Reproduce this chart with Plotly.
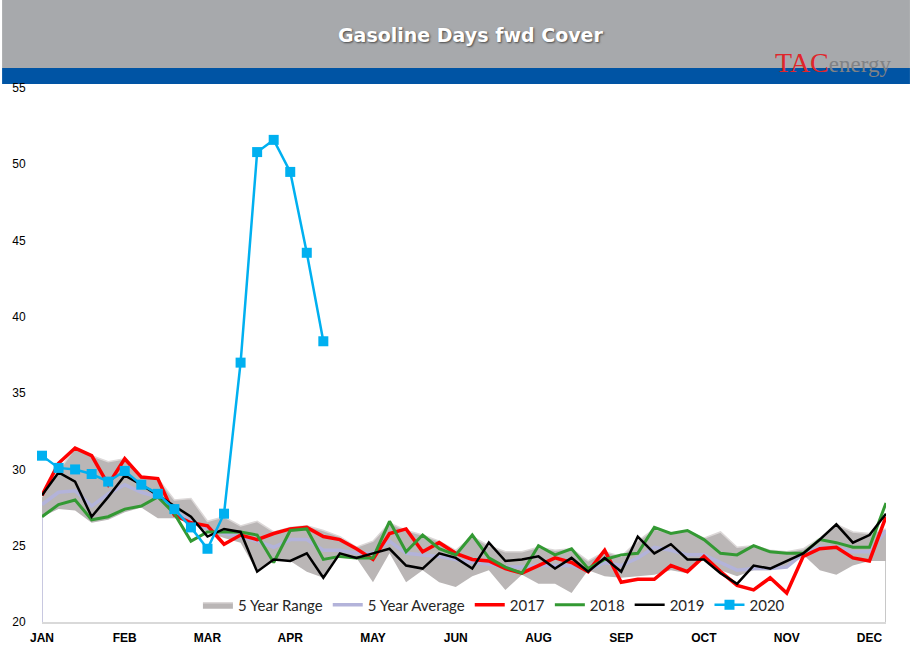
import plotly.graph_objects as go

weeks = list(range(52))
tick_weeks = [0, 5, 10, 15, 20, 25, 30, 35, 40, 45, 50]
tick_labels = ["JAN", "FEB", "MAR", "APR", "MAY", "JUN", "AUG", "SEP", "OCT", "NOV", "DEC"]

range_max = [28.2, 29.9, 31.4, 30.9, 30.5, 30.7, 29.5, 29.4, 28.0, 28.1,
             26.6, 26.9, 26.3, 26.6, 25.9, 26.2, 26.3, 26.0, 25.6, 24.9,
             25.3, 26.5, 26.0, 25.7, 25.3, 24.7, 25.6, 25.0, 24.6, 24.6,
             24.9, 24.7, 24.8, 24.0, 24.6, 24.3, 25.3, 26.1, 25.8, 26.0,
             25.5, 25.9, 24.9, 25.0, 24.7, 24.6, 24.8, 25.5, 26.4, 25.9,
             25.8, 26.1]
range_min = [26.9, 27.4, 27.3, 26.5, 26.7, 27.2, 27.5, 26.8, 26.8, 26.5,
             25.9, 25.5, 25.2, 23.3, 24.0, 24.0, 23.3, 22.9, 24.4, 24.2,
             22.6, 24.5, 22.6, 23.4, 22.6, 22.3, 23.0, 23.4, 22.1, 23.1,
             22.5, 22.5, 21.9, 23.4, 23.0, 22.9, 23.0, 23.1, 23.4, 23.2,
             24.2, 23.4, 23.0, 23.4, 23.4, 23.6, 24.4, 23.4, 23.1, 23.7,
             24.0, 24.0]
avg5 = [27.7, 28.5, 28.6, 27.6, 28.4, 29.0, 28.5, 28.2, 27.3, 26.6,
        26.1, 25.8, 25.6, 25.3, 24.9, 25.4, 25.4, 24.7, 24.7, 24.5,
        24.5, 25.3, 24.5, 24.4, 24.3, 24.1, 23.9, 23.8, 23.6, 23.6,
        23.7, 23.7, 23.7, 23.4, 23.9, 23.7, 24.2, 24.9, 24.7, 24.4,
        24.4, 23.9, 23.4, 23.5, 23.5, 23.6, 24.5, 24.9, 24.9, 24.6,
        24.6, 26.0]
y2017 = [28.3, 30.4, 31.4, 30.9, 29.0, 30.7, 29.5, 29.4, 27.0, 26.5,
         26.3, 25.1, 25.7, 25.4, 25.8, 26.1, 26.2, 25.6, 25.4, 24.8,
         24.1, 25.8, 26.1, 24.6, 25.2, 24.5, 24.1, 24.0, 23.5, 23.2,
         23.7, 24.2, 23.9, 23.3, 24.7, 22.6, 22.8, 22.8, 23.7, 23.3,
         24.3, 23.3, 22.4, 22.1, 22.9, 21.9, 24.3, 24.8, 24.9, 24.2,
         24.0, 26.9]
y2018 = [26.9, 27.7, 28.0, 26.7, 26.9, 27.4, 27.6, 28.2, 27.1, 25.3,
         25.9, 25.9, 25.9, 25.7, 23.9, 26.0, 26.1, 24.1, 24.3, 24.2,
         24.2, 26.6, 24.6, 25.7, 24.8, 24.4, 25.7, 24.2, 23.6, 23.2,
         25.0, 24.4, 24.8, 23.5, 24.1, 24.4, 24.5, 26.2, 25.8, 26.0,
         25.4, 24.5, 24.4, 25.0, 24.6, 24.5, 24.5, 25.4, 25.2, 24.9,
         24.9, 27.8]
y2019 = [28.3, 29.8, 29.2, 26.9, 28.2, 29.6, 29.0, 28.3, 27.6, 26.9,
         25.6, 26.1, 25.9, 23.3, 24.1, 24.0, 24.5, 22.9, 24.5, 24.2,
         24.5, 24.8, 23.7, 23.5, 24.5, 24.2, 23.5, 25.2, 24.0, 24.1,
         24.3, 23.5, 24.2, 23.3, 24.2, 23.3, 25.6, 24.5, 25.1, 24.1,
         24.1, 23.2, 22.5, 23.7, 23.5, 24.0, 24.5, 25.4, 26.4, 25.2,
         25.7, 27.1]
y2020 = [30.9, 30.1, 30.0, 29.7, 29.2, 29.9, 29.0, 28.4, 27.4, 26.2,
         24.8, 27.1, 37.0, 50.8, 51.6, 49.5, 44.2, 38.4]

W, H = 910, 659
ML, MR, MT, MB = 40, 24, 88, 37
PW, PH = W - ML - MR, H - MT - MB


def px_x(p):
    return (p - ML) / PW


def px_y(p):
    return (H - MB - p) / PH


fig = go.Figure()

# 5 year range: base (min) then filled max
fig.add_trace(go.Scatter(x=weeks, y=range_min, mode="lines",
                         line=dict(color="rgba(0,0,0,0)", width=0),
                         showlegend=False, hoverinfo="skip"))
fig.add_trace(go.Scatter(x=weeks, y=range_max, mode="lines", name="5 Year Range",
                         fill="tonexty", fillcolor="#BAB6B6",
                         line=dict(color="#DCD8D8", width=1.5)))
# edges of the range area down to the axis
fig.add_trace(go.Scatter(x=[weeks[0], weeks[0]], y=[20, range_min[0]], mode="lines",
                         line=dict(color="#C8C8E0", width=2),
                         showlegend=False, hoverinfo="skip"))
fig.add_trace(go.Scatter(x=[weeks[-1], weeks[-1]], y=[20, range_min[-1]], mode="lines",
                         line=dict(color="#C8C8C8", width=2),
                         showlegend=False, hoverinfo="skip"))

fig.add_trace(go.Scatter(x=weeks, y=avg5, mode="lines", name="5 Year Average",
                         line=dict(color="#B3B3DA", width=3.5)))
fig.add_trace(go.Scatter(x=weeks, y=y2017, mode="lines", name="2017",
                         line=dict(color="#FF0000", width=3.5)))
fig.add_trace(go.Scatter(x=weeks, y=y2018, mode="lines", name="2018",
                         line=dict(color="#339933", width=3)))
fig.add_trace(go.Scatter(x=weeks, y=y2019, mode="lines", name="2019",
                         line=dict(color="#000000", width=2.5)))
fig.add_trace(go.Scatter(x=weeks[:len(y2020)], y=y2020, mode="lines+markers", name="2020",
                         line=dict(color="#00B0F0", width=2.5),
                         marker=dict(symbol="square", size=10, color="#00B0F0"),
                         cliponaxis=False))

shapes = [
    dict(type="rect", xref="paper", yref="paper",
         x0=px_x(0), x1=px_x(W), y0=px_y(68), y1=px_y(0),
         fillcolor="#A7A9AC", line=dict(width=0), layer="below"),
    dict(type="rect", xref="paper", yref="paper",
         x0=px_x(0), x1=px_x(W), y0=px_y(84), y1=px_y(68),
         fillcolor="#0054A4", line=dict(width=0), layer="below"),
]

annotations = [
    dict(text="Gasoline Days fwd Cover", xref="paper", yref="paper",
         x=px_x(470), y=px_y(35), xanchor="center", yanchor="middle", showarrow=False,
         font=dict(family="DejaVu Sans", size=19, color="white", weight="bold",
                   shadow="1px 1px 2px #4a4a4a")),
    dict(text="<span style='color:#E0262B;font-size:28px'>TAC</span><span style='color:#808285'>energy</span>",
         xref="paper", yref="paper", x=px_x(893), y=px_y(62),
         xanchor="right", yanchor="middle", showarrow=False,
         font=dict(family="Liberation Serif, Times New Roman", size=23)),
]

fig.update_layout(
    width=W, height=H,
    margin=dict(l=ML, r=MR, t=MT, b=MB, pad=0),
    paper_bgcolor="white", plot_bgcolor="white",
    shapes=shapes, annotations=annotations,
    showlegend=True,
    legend=dict(orientation="h", x=px_x(493), y=px_y(605), xanchor="center", yanchor="middle",
                font=dict(family="Lato, Carlito, Calibri", size=15, color="#262626"),
                bgcolor="rgba(0,0,0,0)", traceorder="normal", itemwidth=30),
    xaxis=dict(range=[0, 51], tickvals=tick_weeks, ticktext=tick_labels,
               showgrid=False, zeroline=False, showline=True, linecolor="#D9D9D9", linewidth=2,
               ticks="outside", ticklen=4, tickcolor="rgba(0,0,0,0)",
               tickfont=dict(family="Liberation Sans, Arial", size=12, color="black",
                             weight="bold")),
    yaxis=dict(range=[20, 55], tickvals=[20, 25, 30, 35, 40, 45, 50, 55],
               showgrid=False, zeroline=False, showline=False,
               ticks="outside", ticklen=13, tickcolor="rgba(0,0,0,0)",
               tickfont=dict(family="Liberation Sans, Arial", size=12, color="black")),
)

fig.write_html("out.html")
